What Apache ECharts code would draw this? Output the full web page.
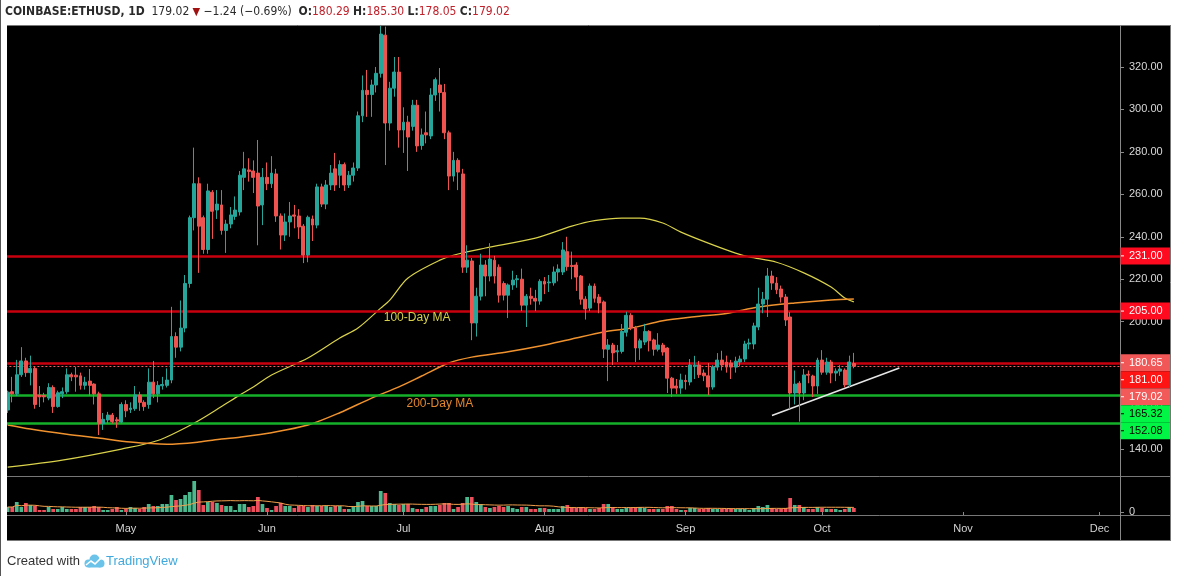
<!DOCTYPE html>
<html>
<head>
<meta charset="utf-8">
<script src="https://cdn.jsdelivr.net/npm/echarts@6/dist/echarts.min.js"></script>
<style>
  html, body { margin: 0; padding: 0; background: #fff; }
  #chart { width: 1177px; height: 576px; }
</style>
</head>
<body>
<div id="chart"></div>
<script>
// ---------------- DATA ----------------
const firstDay = [2019, 3, 5];   // 2019-04-05 (month index 3 = April)
const lastDay = [2019, 11, 5];   // 2019-12-05 (axis runs past the data)

// daily OHLC, 2019-04-05 .. 2019-10-08
const opens = [
158.4,167,166,175,181.5,176,178,165.5,165.3,164,169,160,166,167,175,174.8,174.5,170,172,170.6,166,152,153.7,156,153.8,152.7,
161,158.6,159,165.5,162,161,171.5,166,169.8,170,172.5,193,188,197,218,249,265,249,234,261,252.6,255,243,246,249.6,251.7,268,271.5,271,270,255,
268,265,269.6,249.8,240.8,247,250.3,249.8,245,231.4,248.4,245.5,263.5,255.4,264.4,272,269,274,264.4,269,272.4,297,309,307,311.5,317,335,293.6,310,317.6,
290.3,294,292,302,283,289,287.5,306.8,311.5,308,289,268.6,276,269.6,225.7,228.6,199.4,212,226.7,221.5,229,225.7,218,212.5,217.3,219.8,220,207.8,212,211,209.7,
219,218.3,218.3,223.4,223.4,233,226.5,226.7,221.5,210.6,206.4,216.8,211.6,209.3,187,189,185.8,186,195,203,197,187.6,190.4,195.4,191.4,187,189,187.6,173.4,169.7,168.7,
172.3,171.6,179,179.6,175.8,174.5,169.2,178.6,181.9,181,180.5,178.6,181,182.4,189.5,189.5,197.5,208.3,210.6,221.5,218.2,215.4,211.6,202.2,166.4,171,166.4,175.2,174.4,169.7,
181.9,176.2,181,175.8,176.7,177.2,170.2,180.29];
const closes = [
166.8,166,175,181.5,176,178,161,164.5,164.6,169,160,166.5,167,175,174,174,170,171.5,170,166,152,154,156,153,153.2,161,
158,159.3,165.5,162,160,171.5,166,170,170.4,172.5,193,188,197,218,249,265,245,234,261.6,252,255.4,243,246,250.3,252.6,269,272,270.8,268,254.5,268,
265,270,249.8,240.8,247,249.8,249.7,244.6,231.4,249.2,245.5,263.5,255.4,264.4,270,264.4,274,264.4,269,272.4,297,309,307,311.5,317,335.5,293.6,310,317.6,290.3,
294,287,302,282.8,288,288,306.8,314,308,289,268.6,276,270.5,225.7,229,199.4,212,226.7,221.5,229.5,221.5,212.5,212.5,217.3,219.6,220.2,207.8,212,211,209.7,219,
217.7,218.7,223.4,224.8,233.8,225.9,226,221,210.6,206,216.8,211,208.8,187.1,189,185.3,186.3,195.4,203,197.3,187.6,191,195.4,191,187,189,185.7,173.4,168.7,168.7,172.5,
171.8,179.6,179.5,175,174.5,169.2,178.6,181.9,179.6,178.6,178.6,181.4,182.4,189.5,190,198,208.3,210.6,221.5,218.2,215,211.6,200.8,166.4,170.6,166.4,174.9,174.8,169.7,181.9,
176.2,181,175.8,176.7,177.7,170.2,181,179.02];
const lows = [
157,162,165,174,174,170,159,159.8,162,163,157,159.5,164,166,172,167,168,168,165,161,146.6,149,152,152,150,152,
155,157,158,158,158,159,164,162,168,169,171,183,186,195,216,243,223,232,232,239,248.4,241,232.4,244,248,250,262,266,260.6,236,245.5,
262,263,247,234,238,240,244,239,227.6,228,238,244,254,253,262,261.6,263,261.6,263,266,271,294,296.5,296.5,308,315,273.8,290,306,282,
279.5,271,290,280,281,284,286,304,299,286,262,266,262,223,223,191.3,193,210,212,219,218,209,210,201.7,215,216,205,197.5,208,205,208,
213,214,217,219,222,224,220,214.5,208,201,205,209,204,182.9,172,179.6,181,185,193,196,181,182,189,186,184,186,184,166.4,164.5,166,166,
168,170,173,173.5,172,165.4,168,177,177,176,173,176,179,181,187,187,196,204,202.2,215,213,209,198,158.8,161,152.9,163,171,164.5,166,
175,175,171,172,174.5,169,169,178.05];
const highs = [
167.5,174,182,188,183,184,179,169.7,166.5,171,170,167.5,169,178,176,178.6,176,174,177.7,171,167,157,157.5,157,155,162,
163,162,169.7,167,163,178,181.5,172,174,178,207,195,210,222,250,282,268,250,265,262,262,262,248,254,259,271,280,277,276,285.6,272.4,
275,278,272,251,251,256.4,255,253,246,250,250,265,265,266.7,273.8,279.5,276,275,271,275,299,316,318.6,314,320,339.8,339,313,324.7,324.7,
301,297,304.5,304.5,291,299,310,315,319.5,312,290,280,277,272,236,230,216,232,229,237,231,227,219,218,224,222,225,213,216,215,220,
221,222,226,227,237.5,240,233,228,222,212,218,218,213,210,191.8,190,189,198.9,204.7,204,198,192,199,196,192,194.6,190,188,174,173,175.5,
175,182.4,183.9,181.5,177.5,180.5,179.5,185.2,186.3,184,182,183.5,184,191,192,199.5,216,214,225.3,224,221,217,213,204.5,177,172,177.7,177,175,183,
186.6,183,182,178,179.5,178,184,185.30];

// daily volume (relative units)
const volumes = [
5,5,10,5,9,7,6,2,2,5,3,3,5,3,3,3,5,5,5,6,5,2,2,3,5,2,
3,5,4,3,5,8,6,6,8,8,17,12,13,17,20,31,22,7,10,10,9,7,6,6,2,8,8,5,6,15,8,
4,2,6,9,6,6,4,6,6,5,7,6,6,6,5,6,6,3,3,6,10,11,6,6,6,21,19,9,8,7,
8,8,4,3,3,5,6,6,7,9,9,3,5,9,15,15,10,8,5,4,5,6,5,6,4,3,5,5,3,3,4,
4,3,3,3,6,7,5,4,5,4,3,3,4,8,8,5,3,3,4,4,5,5,4,3,3,3,3,6,6,3,2,
2,4,4,3,3,4,3,3,3,3,3,3,3,3,2,4,6,5,7,4,3,3,4,14,7,7,5,3,3,5,
4,3,3,3,2,3,5,4];

// moving averages sampled from the drawn lines
const ma100 = [
['2019-04-05',131.5],['2019-04-17',134.8],['2019-04-30',140],['2019-05-08',144],['2019-05-16',152.2],
['2019-05-22',160],['2019-05-26',165.4],['2019-05-29',169.2],['2019-06-02',174.9],['2019-06-10',182.9],
['2019-06-17',192.3],['2019-06-21',197],['2019-06-26',206.4],['2019-06-28',210.2],['2019-07-02',220.6],
['2019-07-09',229],['2019-07-13',231.9],['2019-07-19',234.7],['2019-07-30',239.4],['2019-08-07',245],
['2019-08-12',247.6],['2019-08-18',248.8],['2019-08-22',248.8],['2019-08-27',246.5],['2019-08-31',242.2],
['2019-09-06',237],['2019-09-12',232.3],['2019-09-15',230.5],['2019-09-21',228],['2019-09-27',223],
['2019-10-03',216.3],['2019-10-06',211.1],['2019-10-08',209.3]];
const ma200 = [
['2019-04-05',151.3],['2019-04-10',149.4],['2019-04-18',147],['2019-04-25',145.2],['2019-05-02',143.3],
['2019-05-10',142.3],['2019-05-17',143.3],['2019-05-22',144.7],['2019-05-26',145.6],['2019-06-02',147.7],
['2019-06-10',151.3],['2019-06-17',157.1],['2019-06-24',164],['2019-06-30',169.3],['2019-07-05',174.4],
['2019-07-11',180.5],['2019-07-16',183.3],['2019-07-24',185.8],['2019-07-31',188.5],['2019-08-07',191.8],
['2019-08-14',195.1],['2019-08-20',197],['2019-08-27',200.4],['2019-09-03',202.3],['2019-09-10',203.9],
['2019-09-17',206.9],['2019-09-25',208.8],['2019-10-03',210.2],['2019-10-08',210.7]];

const redLevels = [231, 205, 180.65];
const greenLevels = [165.32, 152.08];
const lastPrice = 179.02;
const trendLine = [['2019-09-20', 155.8], ['2019-10-18', 178.2]];
const priceTicks = [140, 160, 180, 200, 220, 240, 260, 280, 300, 320];
const monthNames = ['Jan','Feb','Mar','Apr','May','Jun','Jul','Aug','Sep','Oct','Nov','Dec'];
const maLabels = [
  { text: '100-Day MA', at: ['2019-07-04', 201.7], color: '#d6cf4a' },
  { text: '200-Day MA', at: ['2019-07-09', 161.2], color: '#e4862d' }
];
const priceTags = [
  { text: '231.00', value: 231, bg: '#ff0a1e', fg: '#ffffff' },
  { text: '205.00', value: 205, bg: '#ff0a1e', fg: '#ffffff' },
  { text: '180.65', value: 180.65, bg: '#f25757', fg: '#ffffff' },
  { text: '181.00', value: 181, bg: '#ff1414', fg: '#ffffff' },
  { text: '179.02', value: 179.02, bg: '#f25a5a', fg: '#ffffff' },
  { text: '165.32', value: 165.32, bg: '#00f545', fg: '#000000' },
  { text: '152.08', value: 152.08, bg: '#00f545', fg: '#000000' }
];

// ---------------- BUILD ----------------
function ymd(d) {
  const m = d.getUTCMonth() + 1, day = d.getUTCDate();
  return d.getUTCFullYear() + '-' + (m < 10 ? '0' : '') + m + '-' + (day < 10 ? '0' : '') + day;
}
const dates = [];
for (let t = Date.UTC(firstDay[0], firstDay[1], firstDay[2]); t <= Date.UTC(lastDay[0], lastDay[1], lastDay[2]); t += 86400000) {
  dates.push(ymd(new Date(t)));
}
const UP = '#26a69a', DOWN = '#ef5350';
const candleData = opens.map((o, i) => [o, closes[i], lows[i], highs[i]]);
const volData = volumes.map((v, i) => ({
  value: v,
  itemStyle: { color: closes[i] >= opens[i] ? '#4cb88d' : '#ee4f5d' }
}));
const volMA = volumes.map((v, i) => {
  const s = Math.max(0, i - 19);
  const part = volumes.slice(s, i + 1);
  return +(part.reduce((a, b) => a + b, 0) / part.length).toFixed(2);
});
const isMonthStart = (idx, val) => val.slice(8) === '01';

const W = 1177;
const axisX = 1120;
const gridLeft = 5.4;
const FONT = "'Liberation Sans', Arial, sans-serif";

const chart = echarts.init(document.getElementById('chart'), null, { renderer: 'canvas' });

const option = {
  animation: false,
  backgroundColor: '#ffffff',
  textStyle: { fontFamily: FONT },
  grid: [
    { left: gridLeft, right: W - axisX, top: 26, height: 450 },
    { left: gridLeft, right: W - axisX, top: 477, height: 35 }
  ],
  xAxis: [
    { type: 'category', gridIndex: 0, data: dates, boundaryGap: true,
      axisLine: { show: false }, axisTick: { show: false }, axisLabel: { show: false }, splitLine: { show: false } },
    { type: 'category', gridIndex: 1, data: dates, boundaryGap: true, offset: 3,
      axisLine: { show: false },
      axisTick: { show: true, alignWithLabel: true, interval: isMonthStart, length: 3, lineStyle: { color: '#8a8a8a' } },
      axisLabel: { interval: isMonthStart, margin: 8, color: '#d4d4d4', fontSize: 11, fontFamily: FONT,
        formatter: v => monthNames[+v.slice(5, 7) - 1] },
      splitLine: { show: false } }
  ],
  yAxis: [
    { type: 'value', gridIndex: 0, position: 'right', min: 127.3, max: 339.3,
      axisLine: { show: false },
      axisTick: { show: true, length: 4, customValues: priceTicks, lineStyle: { color: '#8a8a8a' } },
      axisLabel: { customValues: priceTicks, formatter: v => v.toFixed(2), color: '#d8d8d8', fontSize: 11, margin: 9, fontFamily: FONT },
      splitLine: { show: false } },
    { type: 'value', gridIndex: 1, position: 'right', min: 0, max: 35,
      axisLine: { show: false },
      axisTick: { show: true, length: 4, customValues: [0], lineStyle: { color: '#8a8a8a' } },
      axisLabel: { customValues: [0], formatter: v => String(v), color: '#d8d8d8', fontSize: 11, margin: 9, fontFamily: FONT },
      splitLine: { show: false } }
  ],
  series: [
    { name: 'ETHUSD', type: 'candlestick', xAxisIndex: 0, yAxisIndex: 0, data: candleData, barWidth: 3.4, z: 5,
      itemStyle: { color: UP, color0: DOWN, borderColor: UP, borderColor0: DOWN, borderWidth: 1 },
      markLine: {
        silent: true, symbol: ['none', 'none'], animation: false,
        label: { show: false },
        data: [
          ...redLevels.map(v => ({ yAxis: v, lineStyle: { color: '#c8000e', width: 2.5, type: 'solid' } })),
          ...greenLevels.map(v => ({ yAxis: v, lineStyle: { color: '#14b02a', width: 2.5, type: 'solid' } })),
          { yAxis: lastPrice, lineStyle: { color: '#f06060', width: 1, type: [2, 2] } },
          [ { coord: trendLine[0], lineStyle: { color: '#e6e6e6', width: 1.5, type: 'solid' } }, { coord: trendLine[1] } ]
        ]
      },
      markPoint: {
        silent: true, symbol: 'circle', symbolSize: 0,
        data: maLabels.map(l => ({ coord: l.at,
          label: { show: true, position: 'inside', formatter: l.text, color: l.color, fontSize: 12, fontFamily: FONT } }))
      }
    },
    { name: 'MA100', type: 'line', xAxisIndex: 0, yAxisIndex: 0, data: ma100, showSymbol: false, smooth: 0.3, z: 4,
      lineStyle: { color: '#d9d24a', width: 1.2 } },
    { name: 'MA200', type: 'line', xAxisIndex: 0, yAxisIndex: 0, data: ma200, showSymbol: false, smooth: 0.3, z: 4,
      lineStyle: { color: '#f0922e', width: 1.5 } },
    { name: 'Volume', type: 'bar', xAxisIndex: 1, yAxisIndex: 1, data: volData, barCategoryGap: '18%' },
    { name: 'VolMA', type: 'line', xAxisIndex: 1, yAxisIndex: 1, data: volMA, showSymbol: false, z: 6,
      lineStyle: { color: '#f3a04c', width: 1 } }
  ]
};
chart.setOption(option);

// --------------- decorations (panel, separators, price tags, texts) ---------------
const graphics = [];
graphics.push({ type: 'rect', z: -10, shape: { x: 7, y: 25, width: 1163, height: 515 }, style: { fill: '#000000' } });
graphics.push({ type: 'line', z: 20, shape: { x1: 7, y1: 25.5, x2: 1170, y2: 25.5 }, style: { stroke: '#777', lineWidth: 1 } });
graphics.push({ type: 'line', z: 20, shape: { x1: 1170.5, y1: 25, x2: 1170.5, y2: 540 }, style: { stroke: '#777', lineWidth: 1 } });
graphics.push({ type: 'line', z: 20, shape: { x1: 7, y1: 540.5, x2: 1171, y2: 540.5 }, style: { stroke: '#777', lineWidth: 1 } });
graphics.push({ type: 'line', z: 20, shape: { x1: 0.5, y1: 0, x2: 0.5, y2: 576 }, style: { stroke: '#555', lineWidth: 1 } });
graphics.push({ type: 'line', z: 20, shape: { x1: 7, y1: 476.5, x2: 1170, y2: 476.5 }, style: { stroke: '#777', lineWidth: 1 } });
graphics.push({ type: 'line', z: 20, shape: { x1: 7, y1: 515.5, x2: 1170, y2: 515.5 }, style: { stroke: '#777', lineWidth: 1 } });
graphics.push({ type: 'line', z: 20, shape: { x1: axisX + 0.5, y1: 25, x2: axisX + 0.5, y2: 540 }, style: { stroke: '#888', lineWidth: 1 } });
// mask under the panel's left edge (first candle is clipped by the frame)
graphics.push({ type: 'rect', z: 30, shape: { x: 1, y: 25, width: 6, height: 515 }, style: { fill: '#ffffff' } });

// stacked price tags on the right scale
let prevY = -1e9;
priceTags.forEach(t => {
  let y = chart.convertToPixel({ yAxisIndex: 0 }, t.value);
  if (y < prevY + 17) y = prevY + 17;
  prevY = y;
  graphics.push({ type: 'rect', z: 40, shape: { x: axisX + 0.5, y: y - 8.5, width: 49.5, height: 17 }, style: { fill: t.bg } });
  graphics.push({ type: 'line', z: 41, shape: { x1: axisX + 1, y1: y, x2: axisX + 4, y2: y }, style: { stroke: t.fg, lineWidth: 1 } });
  graphics.push({ type: 'text', z: 42, x: axisX + 9, y: y, style: { text: t.text, fill: t.fg, font: '11px ' + FONT, textVerticalAlign: 'middle', verticalAlign: 'middle' } });
});

// header
const TF = "'DejaVu Sans Condensed','Liberation Sans Narrow','Liberation Sans',sans-serif";
graphics.push({
  type: 'text', z: 50, x: 5, y: 12,
  style: {
    text: '{s|COINBASE:ETHUSD, 1D}  {n|179.02} {d|▼} {n|\u22121.24 (\u22120.69%)}  {k|O:}{v|180.29} {k|H:}{v|185.30} {k|L:}{v|178.05} {k|C:}{v|179.02}',
    verticalAlign: 'middle', textVerticalAlign: 'middle',
    rich: {
      s: { fontFamily: TF, fontSize: 12, fontWeight: 'bold', fill: '#2a2a2a', color: '#2a2a2a' },
      n: { fontFamily: TF, fontSize: 12, fill: '#2a2a2a', color: '#2a2a2a' },
      d: { fontFamily: TF, fontSize: 11, fill: '#a01212', color: '#a01212' },
      k: { fontFamily: TF, fontSize: 12, fontWeight: 'bold', fill: '#2a2a2a', color: '#2a2a2a' },
      v: { fontFamily: TF, fontSize: 12, fill: '#c0212b', color: '#c0212b' }
    }
  }
});

// footer
graphics.push({ type: 'text', z: 50, x: 7, y: 561, style: { text: 'Created with', fill: '#333', font: '13px ' + FONT, verticalAlign: 'middle', textVerticalAlign: 'middle' } });
graphics.push({ type: 'circle', z: 50, shape: { cx: 88.5, cy: 563.5, r: 4 }, style: { fill: '#6cc3ea' } });
graphics.push({ type: 'circle', z: 50, shape: { cx: 94.5, cy: 559.5, r: 5 }, style: { fill: '#6cc3ea' } });
graphics.push({ type: 'circle', z: 50, shape: { cx: 100.5, cy: 563.5, r: 4 }, style: { fill: '#6cc3ea' } });
graphics.push({ type: 'rect', z: 50, shape: { x: 88.5, y: 562, width: 12, height: 5.5 }, style: { fill: '#6cc3ea' } });
graphics.push({ type: 'polyline', z: 51,
  shape: { points: [[86, 565], [91, 561], [95, 564], [102, 557]] },
  style: { stroke: '#ffffff', lineWidth: 1.6, fill: null } });
graphics.push({ type: 'text', z: 50, x: 106, y: 561, style: { text: 'TradingView', fill: '#3fa9dd', font: '13px ' + FONT, verticalAlign: 'middle', textVerticalAlign: 'middle' } });

chart.setOption({ graphic: graphics });
</script>
</body>
</html>
